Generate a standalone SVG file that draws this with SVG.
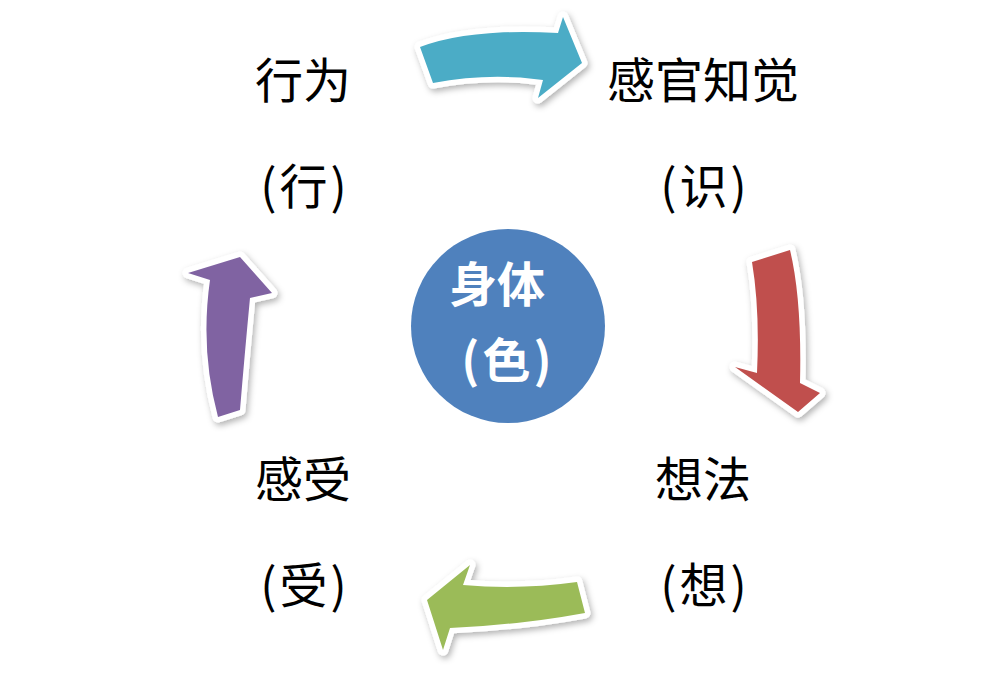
<svg xmlns="http://www.w3.org/2000/svg" width="1008" height="673" viewBox="0 0 1008 673">
<defs>
<filter id="sh" x="-20%" y="-20%" width="140%" height="140%">
<feDropShadow dx="2" dy="3" stdDeviation="3" flood-color="#000" flood-opacity="0.3"/>
</filter>
<style>
.arrow{stroke:#fff;stroke-width:11;stroke-linejoin:round;paint-order:stroke;filter:url(#sh)}
.lbl{font-family:"Noto Sans CJK SC","Liberation Sans",sans-serif;font-size:48px;fill:#000;text-anchor:middle}
.par{letter-spacing:3px}
.ctr{font-family:"Noto Sans CJK SC","Liberation Sans",sans-serif;font-size:48px;font-weight:bold;fill:#fff;text-anchor:middle}
</style>
</defs>
<rect width="1008" height="673" fill="#fff"/>
<g id="connectors">
<path class="arrow" fill="#4BACC6" d="M420,47 Q470,28 558,33 L563,17 L582,63 L538,98 L543,80 Q490,72 433,83 Z"/>
<path class="arrow" fill="#C0504D" d="M790,250 Q802,300 800,383 L820,393 L798,412 L735,367 L757,373 Q760,310 752,262 Z"/>
<path class="arrow" fill="#9BBB59" d="M577,582 L585,613 Q520,625 450,628 L443,650 L427,600 L470,565 L463,585 Q520,590 577,582 Z"/>
<path class="arrow" fill="#8064A2" d="M218,417 L240,410 Q245,350 250,298 L272,293 L240,257 L188,273 L210,280 Q200,350 218,417 Z"/>
</g>
<g id="node-body">
<circle cx="508" cy="326" r="97" fill="#4F81BD"/>
<text class="ctr" x="497" y="302">身体</text>
<text class="ctr par" x="508" y="378">(色)</text>
</g>
<g id="node-action">
<text class="lbl" x="303" y="98">行为</text>
<text class="lbl par" x="305" y="204">(行)</text>
</g>
<g id="node-perception">
<text class="lbl" x="703" y="98">感官知觉</text>
<text class="lbl par" x="705" y="204">(识)</text>
</g>
<g id="node-thought">
<text class="lbl" x="703" y="497">想法</text>
<text class="lbl par" x="705" y="603">(想)</text>
</g>
<g id="node-feeling">
<text class="lbl" x="303" y="497">感受</text>
<text class="lbl par" x="305" y="603">(受)</text>
</g>
</svg>
